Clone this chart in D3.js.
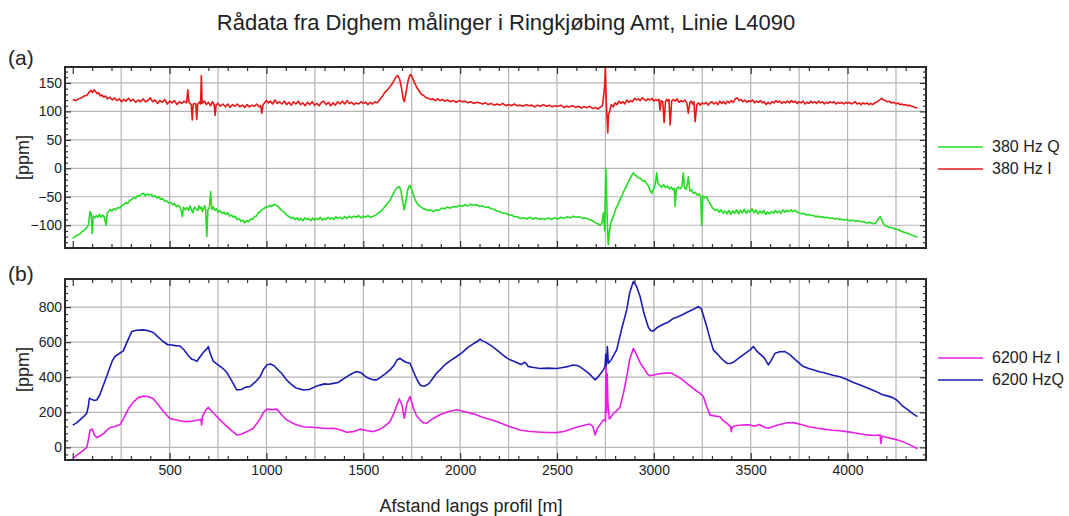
<!DOCTYPE html>
<html>
<head>
<meta charset="utf-8">
<script src="https://cdn.jsdelivr.net/npm/d3@7"></script>
<style>
  body { margin: 0; background: #fff; }
  text { font-family: "Liberation Sans", Arial, sans-serif; fill: #222; }
</style>
</head>
<body>
<svg id="chart" width="1069" height="516"></svg>
<script>
// ---- Dighem profile L4090: [distance m, ppm] ----
const i380 = [[0,121],[15,119],[30,122],[45,124],[60,127],[75,129],[85,134],[95,137],[102,133],[110,138],[118,135],[126,131],[134,133],[142,127],[150,129],[160,125],[170,127],[180,122],[192,125],[205,120],[215,124],[228,119],[240,122],[252,117],[262,121],[275,118],[288,123],[300,118],[312,121],[325,116],[338,120],[350,117],[362,122],[375,117],[388,119],[400,124],[412,117],[425,120],[438,114],[450,119],[462,116],[475,121],[488,113],[500,118],[512,115],[525,119],[538,112],[550,117],[562,114],[575,118],[588,115],[594,138],[600,116],[612,112],[617,85],[622,113],[635,114],[640,86],[645,112],[655,117],[660,113],[664,163],[668,114],[680,118],[690,112],[700,116],[712,110],[722,117],[730,112],[735,93],[740,111],[750,114],[762,109],[775,113],[788,108],[800,113],[812,107],[825,112],[838,109],[850,113],[862,108],[875,111],[888,107],[900,112],[912,108],[925,111],[938,109],[950,113],[962,108],[970,110],[976,97],[982,111],[992,116],[1000,119],[1010,115],[1020,118],[1032,113],[1044,120],[1056,114],[1068,117],[1080,113],[1092,118],[1104,112],[1116,116],[1128,111],[1140,117],[1152,113],[1164,118],[1176,112],[1188,115],[1200,110],[1212,116],[1224,112],[1236,117],[1248,111],[1260,114],[1272,110],[1284,116],[1296,118],[1308,112],[1320,116],[1332,110],[1344,115],[1356,111],[1368,117],[1380,113],[1392,118],[1404,113],[1416,119],[1428,114],[1440,116],[1452,112],[1464,115],[1476,113],[1488,117],[1500,114],[1512,116],[1524,112],[1536,116],[1548,113],[1560,117],[1572,115],[1585,121],[1598,126],[1610,133],[1622,137],[1635,142],[1648,148],[1660,155],[1670,161],[1678,163],[1688,156],[1698,140],[1706,122],[1712,117],[1720,132],[1730,152],[1738,162],[1745,165],[1755,158],[1765,150],[1778,141],[1790,135],[1800,130],[1812,128],[1824,124],[1836,123],[1848,121],[1860,122],[1872,119],[1884,122],[1896,119],[1908,121],[1920,118],[1935,120],[1950,117],[1965,119],[1980,116],[1995,119],[2010,117],[2025,118],[2040,115],[2055,117],[2070,114],[2085,116],[2100,115],[2115,113],[2130,115],[2145,112],[2160,114],[2175,111],[2190,113],[2205,111],[2220,114],[2235,110],[2250,112],[2265,110],[2280,113],[2295,110],[2310,111],[2325,109],[2340,112],[2355,110],[2370,111],[2385,108],[2400,111],[2415,109],[2430,112],[2445,109],[2460,111],[2475,108],[2490,110],[2505,109],[2520,111],[2535,107],[2550,109],[2565,108],[2580,110],[2595,107],[2610,109],[2625,106],[2640,108],[2655,107],[2670,109],[2685,105],[2700,107],[2712,104],[2722,107],[2735,110],[2745,140],[2750,178],[2754,120],[2758,90],[2762,62],[2766,95],[2772,100],[2780,112],[2790,108],[2800,115],[2810,112],[2820,118],[2830,114],[2840,117],[2850,113],[2860,120],[2870,116],[2880,119],[2890,117],[2900,123],[2910,120],[2920,122],[2930,119],[2940,124],[2950,121],[2960,119],[2970,122],[2980,120],[2990,123],[3000,118],[3010,121],[3020,119],[3026,121],[3032,102],[3038,119],[3046,117],[3053,80],[3060,117],[3066,121],[3072,118],[3078,121],[3084,76],[3092,118],[3100,121],[3110,118],[3120,122],[3130,116],[3140,119],[3150,117],[3160,120],[3170,115],[3178,97],[3186,116],[3194,118],[3200,113],[3207,117],[3213,82],[3222,112],[3230,115],[3240,111],[3250,115],[3260,113],[3270,116],[3280,111],[3290,115],[3300,117],[3310,113],[3320,116],[3330,112],[3340,118],[3350,114],[3360,117],[3370,113],[3380,118],[3390,115],[3400,119],[3410,116],[3420,122],[3430,124],[3440,119],[3450,121],[3460,117],[3470,120],[3480,116],[3490,119],[3500,117],[3510,120],[3520,115],[3530,118],[3540,116],[3550,119],[3560,115],[3570,117],[3580,112],[3590,116],[3600,113],[3610,117],[3620,115],[3630,119],[3640,116],[3650,118],[3660,114],[3670,117],[3680,115],[3690,118],[3700,115],[3710,119],[3720,116],[3730,118],[3740,114],[3750,117],[3760,115],[3770,118],[3780,113],[3790,116],[3800,114],[3810,118],[3820,115],[3830,117],[3840,114],[3850,118],[3860,115],[3870,117],[3880,113],[3890,116],[3900,114],[3910,117],[3920,115],[3930,117],[3940,113],[3950,116],[3960,114],[3970,116],[3980,113],[3990,116],[4000,114],[4010,116],[4020,113],[4030,115],[4040,117],[4050,113],[4060,115],[4070,112],[4080,115],[4090,113],[4100,115],[4110,112],[4120,114],[4130,112],[4140,115],[4150,116],[4160,119],[4170,121],[4177,123],[4185,120],[4195,119],[4205,117],[4215,118],[4225,115],[4240,116],[4250,113],[4260,115],[4270,112],[4280,113],[4290,111],[4300,112],[4310,110],[4320,111],[4330,109],[4340,108],[4350,107],[4361,106]];

const q380 = [[0,-123],[12,-120],[24,-117],[36,-116],[48,-111],[60,-109],[72,-104],[81,-100],[86,-85],[89,-76],[95,-80],[101,-115],[106,-84],[114,-87],[122,-83],[130,-86],[138,-81],[146,-86],[154,-82],[162,-85],[172,-100],[178,-79],[186,-76],[194,-72],[202,-75],[212,-71],[222,-73],[232,-69],[244,-70],[254,-65],[264,-64],[274,-60],[284,-62],[294,-56],[304,-55],[314,-51],[324,-53],[334,-48],[344,-49],[354,-45],[365,-44],[375,-48],[385,-45],[395,-47],[405,-46],[415,-50],[425,-48],[435,-52],[445,-50],[455,-55],[465,-53],[475,-58],[485,-57],[495,-61],[505,-60],[515,-64],[525,-62],[535,-67],[545,-65],[554,-68],[560,-75],[566,-85],[572,-68],[580,-73],[590,-69],[598,-74],[605,-66],[612,-72],[620,-78],[628,-68],[635,-71],[645,-74],[651,-66],[657,-71],[664,-68],[670,-76],[680,-66],[686,-72],[692,-120],[698,-72],[705,-70],[712,-41],[718,-72],[726,-68],[734,-74],[742,-71],[750,-77],[760,-74],[770,-79],[780,-77],[790,-81],[800,-78],[810,-84],[820,-82],[829,-86],[838,-84],[848,-90],[858,-88],[868,-93],[878,-91],[888,-96],[898,-92],[908,-94],[918,-89],[928,-90],[938,-85],[948,-84],[958,-78],[968,-76],[978,-72],[988,-71],[998,-67],[1008,-68],[1018,-65],[1028,-67],[1038,-63],[1048,-65],[1058,-66],[1068,-70],[1078,-74],[1088,-76],[1098,-80],[1108,-83],[1118,-85],[1128,-88],[1138,-86],[1148,-90],[1158,-87],[1168,-91],[1178,-88],[1188,-92],[1198,-87],[1208,-90],[1218,-88],[1228,-92],[1238,-87],[1248,-91],[1258,-88],[1268,-90],[1278,-86],[1288,-91],[1298,-88],[1308,-90],[1318,-86],[1328,-89],[1338,-87],[1348,-90],[1358,-85],[1368,-88],[1380,-86],[1392,-89],[1404,-85],[1416,-88],[1428,-84],[1440,-87],[1452,-84],[1464,-86],[1476,-83],[1488,-87],[1500,-84],[1512,-86],[1524,-83],[1536,-86],[1552,-84],[1565,-82],[1580,-78],[1595,-74],[1610,-68],[1624,-62],[1638,-56],[1650,-48],[1662,-40],[1674,-34],[1686,-32],[1695,-40],[1703,-58],[1712,-73],[1720,-58],[1728,-40],[1735,-32],[1741,-30],[1750,-38],[1760,-48],[1770,-57],[1780,-63],[1793,-67],[1806,-70],[1820,-72],[1832,-74],[1845,-73],[1862,-76],[1876,-73],[1890,-74],[1905,-70],[1920,-71],[1935,-68],[1950,-70],[1966,-67],[1982,-68],[1996,-65],[2010,-67],[2025,-64],[2040,-66],[2055,-63],[2068,-65],[2083,-64],[2100,-67],[2115,-66],[2130,-69],[2145,-68],[2160,-71],[2175,-72],[2190,-75],[2205,-76],[2220,-79],[2235,-79],[2250,-82],[2265,-82],[2280,-85],[2295,-85],[2310,-88],[2327,-87],[2343,-89],[2360,-86],[2376,-89],[2392,-87],[2408,-90],[2424,-88],[2440,-90],[2456,-87],[2472,-90],[2488,-87],[2504,-89],[2520,-86],[2536,-88],[2552,-85],[2568,-87],[2584,-84],[2600,-86],[2616,-85],[2632,-88],[2648,-87],[2664,-90],[2680,-91],[2694,-95],[2708,-97],[2722,-100],[2732,-96],[2740,-78],[2746,-110],[2752,0],[2757,-60],[2762,-120],[2765,-134],[2770,-112],[2778,-95],[2786,-88],[2795,-80],[2805,-70],[2815,-64],[2825,-55],[2835,-49],[2845,-40],[2855,-34],[2865,-26],[2875,-20],[2885,-13],[2894,-8],[2903,-12],[2912,-14],[2922,-17],[2932,-18],[2942,-22],[2952,-22],[2963,-27],[2971,-30],[2980,-38],[2989,-44],[2996,-38],[3003,-32],[3009,-25],[3015,-8],[3021,-26],[3030,-30],[3040,-33],[3050,-29],[3060,-34],[3070,-31],[3080,-36],[3090,-33],[3100,-38],[3106,-35],[3110,-67],[3116,-36],[3126,-33],[3136,-36],[3145,-32],[3152,-8],[3158,-34],[3168,-37],[3178,-15],[3186,-40],[3195,-38],[3204,-44],[3214,-42],[3224,-47],[3235,-45],[3242,-50],[3247,-100],[3253,-48],[3262,-52],[3273,-50],[3282,-58],[3292,-63],[3300,-68],[3307,-71],[3317,-74],[3327,-72],[3337,-77],[3347,-73],[3357,-79],[3367,-75],[3377,-80],[3387,-74],[3397,-81],[3407,-75],[3417,-79],[3427,-73],[3437,-80],[3447,-74],[3457,-78],[3467,-72],[3477,-79],[3487,-74],[3497,-77],[3507,-71],[3517,-78],[3527,-73],[3537,-80],[3547,-75],[3557,-79],[3567,-74],[3577,-81],[3587,-77],[3597,-80],[3607,-76],[3617,-79],[3627,-74],[3637,-78],[3647,-75],[3657,-79],[3667,-73],[3677,-77],[3687,-74],[3697,-76],[3707,-73],[3717,-76],[3729,-74],[3740,-77],[3752,-78],[3764,-80],[3776,-79],[3788,-82],[3800,-81],[3812,-83],[3824,-83],[3836,-85],[3848,-84],[3860,-86],[3872,-85],[3884,-87],[3896,-86],[3908,-88],[3920,-87],[3932,-89],[3944,-88],[3956,-90],[3968,-89],[3980,-91],[3996,-90],[4010,-92],[4025,-91],[4040,-93],[4055,-92],[4070,-94],[4085,-94],[4100,-96],[4115,-95],[4130,-97],[4142,-97],[4152,-93],[4160,-88],[4168,-85],[4176,-90],[4184,-97],[4194,-101],[4204,-102],[4216,-104],[4228,-104],[4240,-106],[4252,-107],[4264,-108],[4276,-110],[4288,-112],[4300,-113],[4315,-115],[4330,-117],[4345,-119],[4361,-121]];

const q6200 = [[0,127],[20,140],[40,160],[60,180],[72,194],[80,230],[86,280],[95,275],[110,268],[124,270],[140,300],[160,360],[180,420],[193,460],[205,495],[218,518],[240,535],[261,550],[280,600],[305,661],[330,668],[365,670],[390,665],[416,655],[440,630],[465,605],[490,585],[502,585],[530,580],[554,578],[575,555],[595,525],[614,503],[625,500],[640,490],[650,505],[670,535],[685,555],[692,560],[700,575],[708,540],[726,490],[750,470],[775,450],[795,428],[820,380],[847,327],[870,330],[890,342],[915,347],[940,370],[967,403],[985,445],[1002,470],[1020,475],[1040,465],[1053,450],[1080,420],[1100,390],[1122,365],[1150,340],[1190,327],[1220,330],[1250,345],[1277,355],[1300,362],[1320,360],[1346,365],[1370,370],[1390,385],[1415,403],[1440,420],[1466,432],[1490,425],[1510,405],[1530,393],[1550,385],[1569,385],[1590,400],[1615,420],[1638,442],[1660,470],[1675,500],[1690,508],[1705,495],[1720,485],[1741,480],[1760,430],[1780,380],[1793,356],[1805,350],[1819,350],[1840,365],[1860,395],[1880,425],[1896,442],[1920,470],[1950,495],[1982,518],[2010,540],[2040,570],[2070,592],[2090,605],[2103,617],[2110,610],[2130,600],[2160,580],[2189,556],[2220,528],[2240,510],[2258,499],[2280,490],[2300,480],[2315,472],[2330,485],[2340,480],[2350,462],[2380,455],[2413,450],[2450,452],[2499,450],[2530,455],[2560,462],[2584,470],[2610,465],[2630,450],[2653,432],[2675,410],[2697,385],[2715,405],[2739,442],[2748,460],[2752,530],[2755,470],[2760,575],[2765,480],[2780,500],[2808,556],[2835,680],[2860,785],[2875,880],[2894,946],[2910,920],[2929,860],[2950,760],[2972,683],[2985,665],[2997,664],[3020,685],[3049,702],[3075,715],[3101,735],[3125,745],[3152,759],[3180,775],[3210,790],[3230,803],[3245,790],[3256,750],[3270,700],[3290,620],[3307,556],[3330,530],[3355,500],[3376,480],[3393,478],[3410,485],[3440,510],[3470,535],[3497,556],[3514,575],[3530,550],[3550,530],[3570,510],[3591,470],[3605,495],[3626,537],[3650,545],[3677,546],[3700,530],[3730,500],[3772,461],[3800,450],[3830,440],[3860,430],[3875,427],[3900,418],[3930,410],[3961,403],[4000,385],[4030,370],[4065,355],[4100,340],[4140,322],[4168,307],[4180,300],[4200,295],[4230,285],[4254,270],[4280,240],[4310,215],[4340,190],[4361,175]];

const i6200 = [[0,-63],[20,-45],[40,-30],[60,-12],[72,-2],[82,50],[89,99],[101,104],[112,70],[124,56],[140,65],[160,80],[178,100],[193,113],[215,118],[244,130],[265,170],[290,225],[313,258],[340,285],[365,292],[390,290],[416,277],[440,245],[465,210],[490,178],[502,165],[530,158],[560,150],[588,147],[620,150],[657,157],[662,160],[665,128],[670,175],[685,210],[700,228],[715,210],[740,180],[760,157],[790,125],[820,95],[847,71],[870,75],[900,90],[932,109],[960,150],[985,200],[1002,218],[1030,215],[1053,218],[1080,185],[1100,160],[1122,147],[1150,130],[1190,118],[1230,115],[1270,112],[1310,108],[1346,109],[1380,100],[1415,86],[1450,90],[1483,104],[1520,95],[1552,90],[1580,100],[1610,120],[1638,147],[1660,200],[1686,277],[1700,240],[1712,165],[1725,250],[1741,290],[1760,220],[1775,180],[1793,157],[1810,140],[1828,138],[1860,165],[1896,186],[1940,205],[1982,214],[2020,205],[2068,191],[2120,170],[2189,147],[2250,120],[2309,99],[2350,92],[2400,88],[2450,85],[2499,84],[2540,92],[2584,109],[2630,123],[2670,133],[2685,120],[2697,71],[2710,110],[2739,157],[2750,150],[2753,490],[2756,200],[2759,420],[2763,250],[2770,162],[2790,190],[2825,228],[2845,320],[2860,403],[2875,500],[2894,564],[2910,530],[2930,480],[2946,455],[2965,420],[2980,408],[3010,415],[3049,423],[3080,425],[3101,418],[3140,392],[3170,365],[3210,330],[3239,308],[3256,289],[3270,240],[3290,184],[3320,178],[3342,175],[3360,150],[3376,138],[3395,120],[3400,90],[3405,118],[3430,125],[3460,128],[3497,128],[3520,120],[3545,130],[3570,115],[3591,109],[3620,120],[3650,130],[3690,140],[3720,141],[3760,130],[3800,118],[3840,110],[3875,104],[3920,98],[3960,95],[3996,90],[4040,82],[4070,76],[4099,71],[4140,68],[4160,70],[4168,71],[4172,23],[4178,65],[4200,58],[4230,50],[4254,43],[4290,30],[4330,10],[4361,-8]];

// ---- axis ticks ----
const xLabelTicks = [500, 1000, 1500, 2000, 2500, 3000, 3500, 4000];
const xGridLines = [250, 500, 750, 1000, 1250, 1500, 1750, 2000, 2250, 2500, 2750, 3000, 3250, 3500, 3750, 4000, 4250];
const yTicksA = [-100, -50, 0, 50, 100, 150];
const yTicksB = [0, 200, 400, 600, 800];

const svg = d3.select("#chart");

const x = d3.scaleLinear().domain([-40, 4405]).range([65, 926]);

const panels = [
  {
    id: "a", tag: "(a)", tagY: 65,
    y: d3.scaleLinear().domain([-140, 178]).range([248, 67]),
    yTicks: yTicksA, yMinorStep: 10,
    series: [
      { data: q380, color: "#22dd22", name: "380 Hz Q" },
      { data: i380, color: "#e61818", name: "380 Hz I" }
    ],
    drawOrder: [1, 0],
    legendY: 147, xLabels: false
  },
  {
    id: "b", tag: "(b)", tagY: 281,
    y: d3.scaleLinear().domain([-72, 960]).range([460, 279]),
    yTicks: yTicksB, yMinorStep: 40,
    series: [
      { data: i6200, color: "#e61ee6", name: "6200 Hz I" },
      { data: q6200, color: "#1c1cb4", name: "6200 HzQ" }
    ],
    drawOrder: [0, 1],
    legendY: 358, xLabels: true
  }
];

// title
svg.append("text")
  .attr("x", 506).attr("y", 30)
  .attr("text-anchor", "middle")
  .style("font-size", "22px")
  .text("Rådata fra Dighem målinger i Ringkjøbing Amt, Linie L4090");

const [x0, x1] = x.range();

panels.forEach(p => {
  const y = p.y;
  const [yb, yt] = y.range();
  const g = svg.append("g");

  // panel tag
  svg.append("text").attr("x", 8).attr("y", p.tagY)
    .style("font-size", "21px").text(p.tag);

  // grid
  g.append("g").selectAll("line").data(xGridLines).join("line")
    .attr("x1", d => x(d)).attr("x2", d => x(d))
    .attr("y1", yt).attr("y2", yb)
    .attr("stroke", "#b4b4b4").attr("stroke-width", 1.2);
  g.append("g").selectAll("line").data(p.yTicks).join("line")
    .attr("x1", x0).attr("x2", x1)
    .attr("y1", d => y(d)).attr("y2", d => y(d))
    .attr("stroke", "#b4b4b4").attr("stroke-width", 1.2);

  // data lines
  svg.append("clipPath").attr("id", "clip-" + p.id)
    .append("rect").attr("x", x0).attr("y", yt).attr("width", x1 - x0).attr("height", yb - yt);
  const line = d3.line().x(d => x(d[0])).y(d => y(d[1]));
  const lg = g.append("g").attr("clip-path", `url(#clip-${p.id})`);
  p.drawOrder.forEach(i => {
    const s = p.series[i];
    lg.append("path").datum(s.data)
      .attr("d", line)
      .attr("fill", "none")
      .attr("stroke", s.color)
      .attr("stroke-width", 1.6)
      .attr("stroke-linejoin", "round");
  });

  // frame ticks (pointing inwards)
  const xMinor = d3.range(0, 4401, 100).filter(v => v % 500 !== 0);
  const xMajor = d3.range(0, 4401, 500);
  const yMinor = d3.range(Math.ceil(y.domain()[0] / p.yMinorStep) * p.yMinorStep, y.domain()[1], p.yMinorStep)
    .filter(v => !p.yTicks.includes(v));

  const tickStyle = sel => {
    sel.select(".domain").remove();
    sel.selectAll("line").attr("stroke", "#333").attr("stroke-width", 1.2);
    sel.selectAll("text").style("font-size", "14px").attr("fill", "#222");
  };

  // bottom
  g.append("g").attr("transform", `translate(0,${yb})`)
    .call(d3.axisBottom(x).tickValues(xMinor).tickSize(-4).tickFormat("")).call(tickStyle);
  g.append("g").attr("transform", `translate(0,${yb})`)
    .call(d3.axisBottom(x).tickValues(xMajor).tickSize(-7).tickFormat("")).call(tickStyle);
  // top
  g.append("g").attr("transform", `translate(0,${yt})`)
    .call(d3.axisTop(x).tickValues(xMinor).tickSize(-4).tickFormat("")).call(tickStyle);
  g.append("g").attr("transform", `translate(0,${yt})`)
    .call(d3.axisTop(x).tickValues(xMajor).tickSize(-7).tickFormat("")).call(tickStyle);
  // left
  g.append("g").attr("transform", `translate(${x0},0)`)
    .call(d3.axisLeft(y).tickValues(yMinor).tickSize(-3).tickFormat("")).call(tickStyle);
  g.append("g").attr("transform", `translate(${x0},0)`)
    .call(d3.axisLeft(y).tickValues(p.yTicks).tickSize(-6).tickPadding(3).tickFormat(d3.format("d")))
    .call(tickStyle);
  // right
  g.append("g").attr("transform", `translate(${x1},0)`)
    .call(d3.axisRight(y).tickValues(yMinor).tickSize(-3).tickFormat("")).call(tickStyle);
  g.append("g").attr("transform", `translate(${x1},0)`)
    .call(d3.axisRight(y).tickValues(p.yTicks).tickSize(-6).tickFormat("")).call(tickStyle);

  if (p.xLabels) {
    g.append("g").attr("transform", `translate(0,${yb})`)
      .call(d3.axisBottom(x).tickValues(xLabelTicks).tickSize(0).tickPadding(5).tickFormat(d3.format("d")))
      .call(tickStyle);
  }

  // frame
  g.append("rect").attr("x", x0).attr("y", yt)
    .attr("width", x1 - x0).attr("height", yb - yt)
    .attr("fill", "none").attr("stroke", "#2a2a2a").attr("stroke-width", 2);

  // y-axis title
  svg.append("text")
    .attr("transform", `translate(29,${(yt + yb) / 2}) rotate(-90)`)
    .attr("text-anchor", "middle")
    .style("font-size", "18px")
    .text("[ppm]");

  // legend
  p.series.forEach((s, i) => {
    const ly = p.legendY + i * 22;
    svg.append("line").attr("x1", 938).attr("x2", 983).attr("y1", ly).attr("y2", ly)
      .attr("stroke", s.color).attr("stroke-width", 1.7);
    svg.append("text").attr("x", 992).attr("y", ly + 5)
      .style("font-size", "16px").text(s.name);
  });
});

// x-axis title
svg.append("text")
  .attr("x", 471).attr("y", 512)
  .attr("text-anchor", "middle")
  .style("font-size", "18px")
  .text("Afstand langs profil [m]");
</script>
</body>
</html>
